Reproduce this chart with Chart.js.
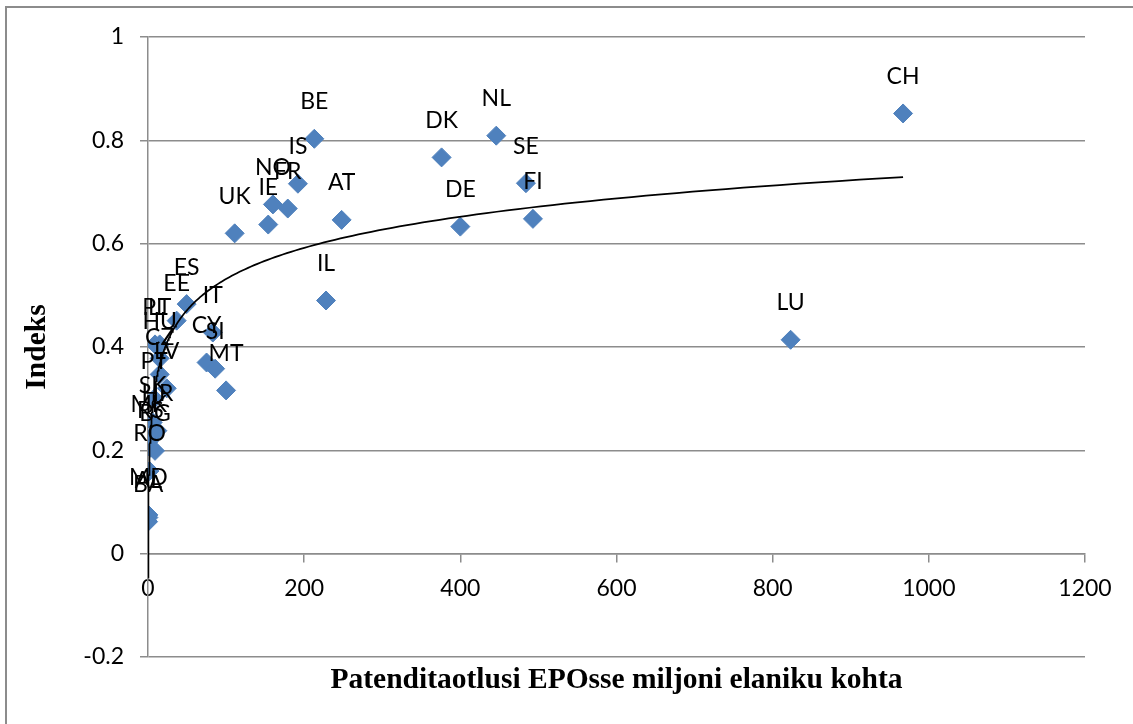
<!DOCTYPE html>
<html>
<head>
<meta charset="utf-8">
<script src="https://cdn.jsdelivr.net/npm/chart.js@4/dist/chart.umd.min.js"></script>
<style>
html,body{margin:0;padding:0;background:#fff;}
canvas{display:block;}
</style>
</head>
<body>
<canvas id="c" width="1133" height="724"></canvas>
<script>
// ---- data ----
const countries = ['CH','LU','NL','DK','SE','FI','DE','IL','AT','BE','IS','NO','FR','IE','UK',
  'IT','CY','SI','MT','ES','EE','PL','LT','HU','CZ','LV','PT','SK','HR','MK','BG','RS','RO','MD','AL','BA'];
const patents = [967, 823, 446, 376, 484, 493, 400, 228, 248, 213, 192, 160, 179, 154, 111,
  83, 75, 86, 100, 49.5, 36.7, 9, 15, 15, 15, 24, 8, 6, 12, 1, 9, 3, 2, 0.5, 0.5, 0.13];
const indexValues = [0.852, 0.414, 0.809, 0.767, 0.717, 0.648, 0.633, 0.490, 0.646, 0.803, 0.716, 0.676, 0.668, 0.637, 0.620,
  0.428, 0.370, 0.358, 0.316, 0.483, 0.451, 0.405, 0.405, 0.378, 0.347, 0.320, 0.300, 0.254, 0.238, 0.217, 0.199, 0.205, 0.160, 0.075, 0.070, 0.062];
const xTicks = [0, 200, 400, 600, 800, 1000, 1200];
const yTicks = [-0.2, 0, 0.2, 0.4, 0.6, 0.8, 1];
const xTitle = 'Patenditaotlusi EPOsse miljoni elaniku kohta';
const yTitle = 'Indeks';

// ---- build datasets ----
const points = patents.map((x, i) => ({x: x, y: indexValues[i]}));

// logarithmic trendline (least squares on ln x), as a spreadsheet would compute it
const lnX = patents.map(v => Math.log(v));
const n = lnX.length;
const mL = lnX.reduce((a, b) => a + b, 0) / n;
const mY = indexValues.reduce((a, b) => a + b, 0) / n;
let sxy = 0, sxx = 0;
for (let i = 0; i < n; i++) { sxy += (lnX[i] - mL) * (indexValues[i] - mY); sxx += (lnX[i] - mL) * (lnX[i] - mL); }
const slope = sxy / sxx;
const intercept = mY - slope * mL;
const xMin = Math.min(...patents), xMax = Math.max(...patents);
const trendPoints = [];
const steps = 300;
for (let k = 0; k <= steps; k++) {
  const x = Math.exp(Math.log(xMin) + (Math.log(xMax) - Math.log(xMin)) * k / steps);
  trendPoints.push({x: x, y: slope * Math.log(x) + intercept});
}

const GRID = '#8c8c8c';

const borderPlugin = {
  id: 'outerBorder',
  beforeDraw(chart) {
    const ctx = chart.ctx;
    ctx.save();
    ctx.fillStyle = '#fff';
    ctx.fillRect(0, 0, chart.width, chart.height);
    ctx.strokeStyle = GRID;
    ctx.lineWidth = 2;
    ctx.strokeRect(6, 7, 1140, 740);
    ctx.restore();
  }
};

const labelPlugin = {
  id: 'pointLabels',
  afterDatasetsDraw(chart) {
    const meta = chart.getDatasetMeta(1);
    const ctx = chart.ctx;
    ctx.save();
    ctx.font = '23px Lato';
    ctx.fillStyle = '#000';
    ctx.textAlign = 'center';
    ctx.textBaseline = 'middle';
    meta.data.forEach((el, i) => ctx.fillText(countries[i], el.x, el.y - 37));
    ctx.restore();
  }
};

const fmt = v => String(Math.round(v * 10) / 10);

new Chart(document.getElementById('c'), {
  type: 'scatter',
  data: {
    datasets: [
      {
        label: 'trend',
        data: trendPoints,
        showLine: true,
        borderColor: '#000',
        borderWidth: 1.75,
        pointRadius: 0,
        pointHoverRadius: 0,
        fill: false,
        order: 0
      },
      {
        label: 'Indeks',
        data: points,
        pointStyle: 'rectRot',
        pointRadius: 9.5,
        pointHoverRadius: 9.5,
        backgroundColor: '#4F81BD',
        borderColor: '#4F81BD',
        borderWidth: 1,
        order: 1
      }
    ]
  },
  options: {
    responsive: false,
    animation: false,
    devicePixelRatio: 1,
    events: [],
    layout: {padding: {left: 0, top: 37, right: 48, bottom: 0}},
    plugins: {
      legend: {display: false},
      tooltip: {enabled: false},
      title: {
        display: true,
        text: xTitle,
        position: 'bottom',
        fullSize: false,
        color: '#000',
        font: {family: 'Liberation Serif', size: 29.5, weight: 'bold', lineHeight: 1.2},
        padding: {top: 6, bottom: 25.6}
      }
    },
    scales: {
      x: {
        type: 'linear',
        position: {y: 0},
        min: xTicks[0],
        max: xTicks[xTicks.length - 1],
        afterBuildTicks(s) { s.ticks = xTicks.map(v => ({value: v})); },
        ticks: {
          callback: v => fmt(v),
          color: '#000',
          font: {family: 'Lato', size: 23},
          padding: 13,
          maxRotation: 0,
          autoSkip: false
        },
        grid: {drawOnChartArea: false, drawTicks: true, tickLength: 8, color: GRID, lineWidth: 1.5},
        border: {display: true, color: GRID, width: 1.5}
      },
      y: {
        type: 'linear',
        position: 'left',
        min: yTicks[0],
        max: yTicks[yTicks.length - 1],
        afterBuildTicks(s) { s.ticks = yTicks.map(v => ({value: v})); },
        afterFit(s) { s.width = 148; },
        ticks: {
          callback: v => fmt(v),
          color: '#000',
          font: {family: 'Lato', size: 23},
          padding: 16,
          autoSkip: false
        },
        grid: {color: GRID, lineWidth: 1.5, tickLength: 8, drawTicks: true},
        border: {display: true, color: GRID, width: 1.5},
        title: {
          display: true,
          text: yTitle,
          color: '#000',
          font: {family: 'Liberation Serif', size: 29.5, weight: 'bold', lineHeight: 1.2},
          padding: {top: 20, bottom: 0}
        }
      }
    }
  },
  plugins: [borderPlugin, labelPlugin]
});
</script>
</body>
</html>
